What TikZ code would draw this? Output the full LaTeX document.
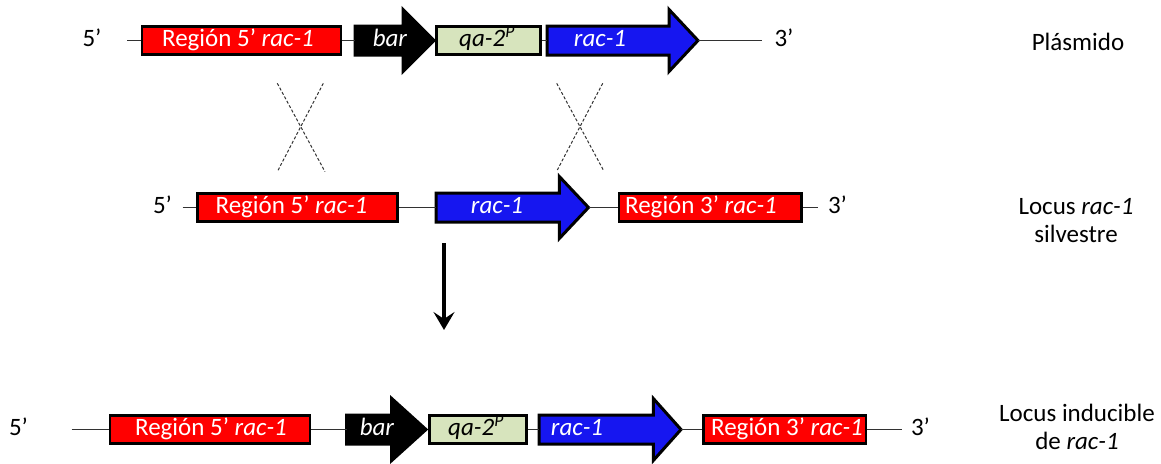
\documentclass[tikz,border=0pt]{standalone}
\usepackage{fontspec}
\setmainfont{Carlito}
\usetikzlibrary{arrows.meta}

\definecolor{genred}{RGB}{255,0,0}
\definecolor{genblue}{RGB}{22,22,240}
\definecolor{promgreen}{RGB}{215,228,189}
\definecolor{dnagrey}{RGB}{50,50,50}

\tikzset{
  lbl/.style={font=\fontsize{25}{28}\selectfont, inner sep=0pt, anchor=base},
  wlbl/.style={lbl, text=white},
  sidelbl/.style={font=\fontsize{25}{28}\selectfont, inner sep=0pt, align=center},
  regionbox/.style={draw=black, line width=2.6pt, fill=genred, inner sep=0pt, minimum height=28pt},
  promoterbox/.style={draw=black, line width=2.6pt, fill=promgreen, inner sep=0pt, minimum height=28pt},
  genebody/.style={draw=black, line width=3pt, line join=miter, miter limit=10},
  dna/.style={draw=dnagrey, line width=1.3pt},
  xover/.style={draw=dnagrey, line width=1pt, dash pattern=on 3pt off 2pt},
  flow/.style={draw=black, line width=3.2pt, -{Stealth[length=18pt,width=21pt,inset=7pt]}},
}

% gene arrow: name, x start, x head start, x tip, y centre, fill
\newcommand{\genearrow}[6]{%
  \filldraw[genebody, fill=#6] (#2,#5-14.5) -- (#3,#5-14.5) -- (#3,#5-31) -- (#4,#5)
    -- (#3,#5+31) -- (#3,#5+14.5) -- (#2,#5+14.5) -- cycle;
  \path ({(#2+#4)/2},#5) node[inner sep=0pt, minimum width={(#4-#2)*1pt}, minimum height=62pt] (#1) {};
}

\begin{document}
\begin{tikzpicture}[x=1pt, y=-1pt]
\useasboundingbox (0,0) rectangle (1161,463);

% ---------- plasmid ----------
\node[lbl] (p5end) at (92,46.5) {5’};
\coordinate (pL) at (127,40.5);
\node[regionbox, minimum width=199pt] (p5) at (241.5,40.5) {};
\node[wlbl] (p5t) at (238,46.5) {Región 5’ \textit{rac-1}};
\genearrow{pbar}{355}{403}{434}{40.5}{black}
\node[wlbl] (pbart) at (390,46.5) {\textit{bar}};
\node[promoterbox, minimum width=104pt] (pqa) at (488.5,40.5) {};
\node[lbl] (pqat) at (487,46.5) {\textit{qa-2\textsuperscript{P}}};
\genearrow{prac}{547}{669}{698}{40.5}{genblue}
\node[wlbl] (pract) at (600,46.5) {\textit{rac-1}};
\coordinate (pR) at (762,40.5);
\node[lbl] (p3end) at (784,46.5) {3’};

\draw[dna] (pL) -- (p5.west);
\draw[dna] (p5.east) -- (pbar.west);
\draw[dna] (pqa.east) -- (prac.west);
\draw[dna] (prac.east) -- (pR);

% ---------- crossover marks ----------
\coordinate (xa1) at (277.3,83.3);
\coordinate (xa2) at (325,171.7);
\coordinate (xa3) at (323.3,83.3);
\coordinate (xa4) at (277.3,171.7);
\draw[xover] (xa1) -- (xa2);
\draw[xover] (xa3) -- (xa4);
\coordinate (xb1) at (556.7,83.3);
\coordinate (xb2) at (603.3,170);
\coordinate (xb3) at (602.7,83.3);
\coordinate (xb4) at (557.3,170);
\draw[xover] (xb1) -- (xb2);
\draw[xover] (xb3) -- (xb4);

% ---------- wild-type locus ----------
\node[lbl] (w5end) at (162.5,213.5) {5’};
\coordinate (wL) at (182.7,207.5);
\node[regionbox, minimum width=200pt] (w5) at (297.7,207.5) {};
\node[wlbl] (w5t) at (291.5,213.5) {Región 5’ \textit{rac-1}};
\genearrow{wrac}{436}{559.3}{588.5}{207.5}{genblue}
\node[wlbl] (wract) at (497,213.5) {\textit{rac-1}};
\node[regionbox, minimum width=182.7pt] (w3) at (710.35,207.5) {};
\node[wlbl] (w3t) at (701,213.5) {Región 3’ \textit{rac-1}};
\coordinate (wR) at (818,207.5);
\node[lbl] (w3end) at (837.5,213.5) {3’};

\draw[dna] (wL) -- (w5.west);
\draw[dna] (w5.east) -- (wrac.west);
\draw[dna] (wrac.east) -- (w3.west);
\draw[dna] (w3.east) -- (wR);

% ---------- recombination result ----------
\coordinate (dTop) at (444,243);
\coordinate (dBot) at (444,330);
\draw[flow] (dTop) -- (dBot);

% ---------- inducible locus ----------
\node[lbl] (i5end) at (18.5,435.5) {5’};
\coordinate (iL) at (71.7,429.5);
\node[regionbox, minimum width=200pt] (i5) at (210,429.5) {};
\node[wlbl] (i5t) at (211,435.5) {Región 5’ \textit{rac-1}};
\genearrow{ibar}{346.7}{391.7}{426}{429.5}{black}
\node[wlbl] (ibart) at (377,435.5) {\textit{bar}};
\node[promoterbox, minimum width=97.4pt] (iqa) at (478,429.5) {};
\node[lbl] (iqat) at (476,435.5) {\textit{qa-2\textsuperscript{P}}};
\genearrow{irac}{539}{653.3}{681}{429.5}{genblue}
\node[wlbl] (iract) at (577,435.5) {\textit{rac-1}};
\node[regionbox, minimum width=162.7pt] (i3) at (784.65,429.5) {};
\node[wlbl] (i3t) at (787,435.5) {Región 3’ \textit{rac-1}};
\coordinate (iR) at (901.7,429.5);
\node[lbl] (i3end) at (920.5,435.5) {3’};

\draw[dna] (iL) -- (i5.west);
\draw[dna] (i5.east) -- (ibar.west);
\draw[dna] (iqa.east) -- (irac.west);
\draw[dna] (irac.east) -- (i3.west);
\draw[dna] (i3.east) -- (iR);

% ---------- row captions ----------
\node[lbl] (plab) at (1078,50) {Plásmido};
\node[sidelbl] (wlab) at (1076,221) {Locus \textit{rac-1}\\silvestre};
\node[sidelbl] (ilab) at (1077,427) {Locus inducible\\de \textit{rac-1}};
\end{tikzpicture}
\end{document}
